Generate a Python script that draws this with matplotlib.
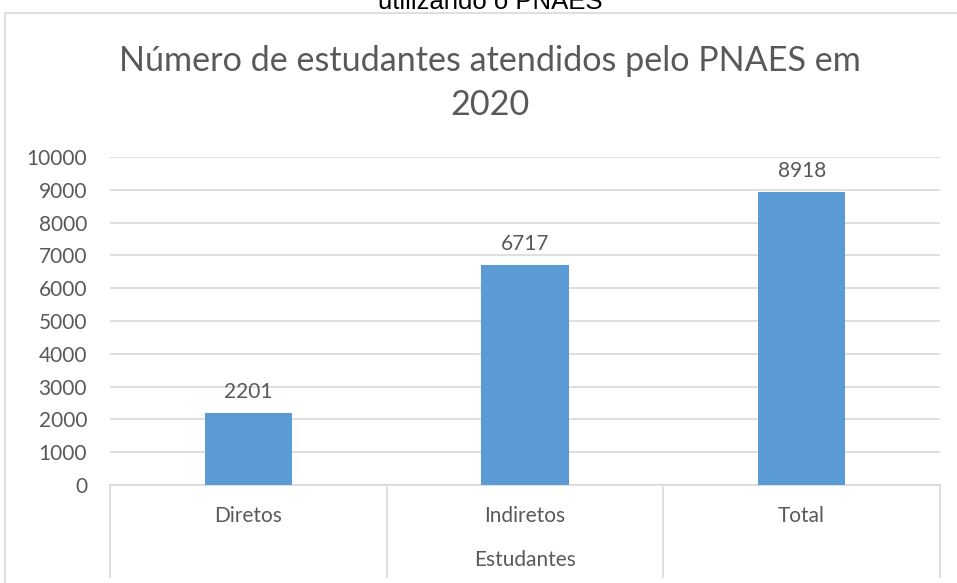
import matplotlib

matplotlib.use("Agg")
import matplotlib.pyplot as plt
from matplotlib.patches import Rectangle

categories = ["Diretos", "Indiretos", "Total"]
values = [2201, 6717, 8918]
y_ticks = [0, 1000, 2000, 3000, 4000, 5000, 6000, 7000, 8000, 9000, 10000]

title = "Número de estudantes atendidos pelo PNAES em\n2020"
x_label = "Estudantes"
cut_caption = "utilizando o PNAES"

TEXT = "#595959"
GRID = "#D9D9D9"
BAR = "#5B9BD5"

plt.rcParams["font.family"] = ["Lato", "DejaVu Sans"]

W, H = 957, 583
fig = plt.figure(figsize=(W / 100, H / 100), dpi=100)

# chart border (right/bottom edges run past the crop)
fig.patches.append(Rectangle((5 / W, -0.1), 1.2, 1 - 13 / H + 0.1,
                             transform=fig.transFigure, fill=False,
                             edgecolor=GRID, linewidth=1.2))

# caption cut off at the top of the picture
fig.text(490 / W, 1 - 9 / H, cut_caption, ha="center", va="baseline",
         fontsize=18.5, color="black", family=["Liberation Sans", "DejaVu Sans"])

ax = fig.add_axes([110 / W, 98 / H, 830 / W, 328 / H])
x = list(range(len(categories)))
ax.bar(x, values, width=0.315, color=BAR, zorder=3)
ax.set_xlim(-0.5, len(categories) - 0.5)
ax.set_ylim(0, 10000)
ax.set_yticks(y_ticks)
ax.set_yticklabels([str(t) for t in y_ticks])
ax.tick_params(axis="y", length=0, pad=16.5, labelsize=15, labelcolor=TEXT)
ax.set_xticks([])
for s in ["top", "right", "left"]:
    ax.spines[s].set_visible(False)
ax.spines["bottom"].set_color(GRID)
ax.spines["bottom"].set_linewidth(1.2)
ax.grid(axis="y", color=GRID, linewidth=1.2, zorder=0)

for xi, v in zip(x, values):
    ax.annotate(str(v), (xi, v), xytext=(0, 8), textcoords="offset points",
                ha="center", va="bottom", fontsize=15, color=TEXT)

# multi-level category axis: separators, labels and axis title
xt = ax.get_xaxis_transform()
drop = -(577 - 485) / 328
for b in [i - 0.5 for i in range(len(categories) + 1)]:
    ax.plot([b, b], [0, drop], transform=xt, color=GRID, linewidth=1.2,
            clip_on=False)
for xi, c in zip(x, categories):
    ax.text(xi, -(516 - 485) / 328, c, transform=xt, ha="center", va="center",
            fontsize=15, color=TEXT)
ax.text(1, -(560 - 485) / 328, x_label, transform=xt, ha="center",
        va="center", fontsize=15, color=TEXT)

fig.text(490 / W, 1 - 83 / H, title, ha="center", va="center",
         fontsize=24.6, color=TEXT, linespacing=1.45)

fig.savefig("out.png", dpi=100)
